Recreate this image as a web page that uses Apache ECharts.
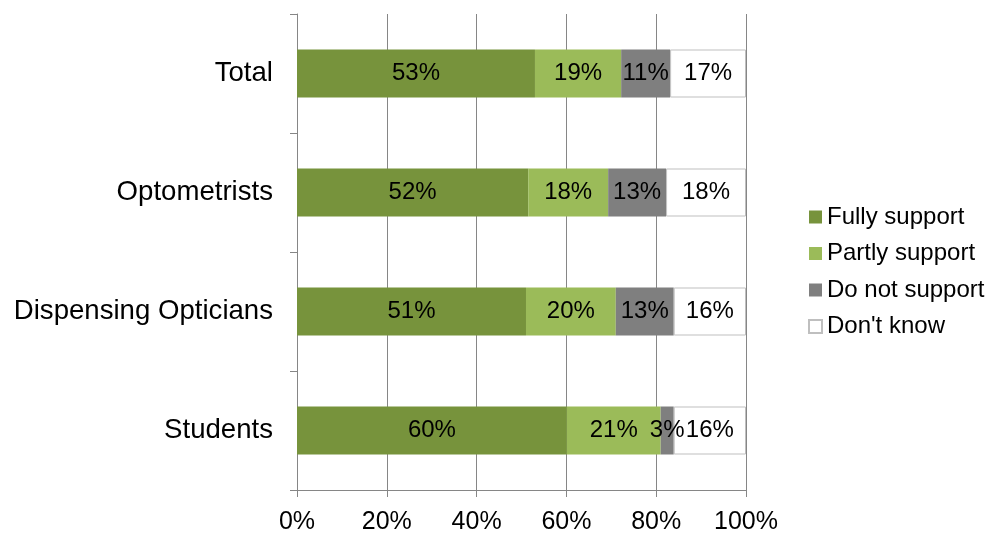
<!DOCTYPE html>
<html><head><meta charset="utf-8">
<script src="https://cdn.jsdelivr.net/npm/echarts@6/dist/echarts.min.js"></script>
<style>html,body{margin:0;padding:0;background:#fff}#c{width:993px;height:536px}</style>
</head><body><div id="c"></div>
<script>
const categories = ['Total', 'Optometrists', 'Dispensing Opticians', 'Students'];
const seriesNames = ['Fully support', 'Partly support', 'Do not support', "Don't know"];
const fully = [53, 51.5, 51, 60.1];
const partly = [19.2, 17.8, 20, 20.9];
const notSupport = [10.9, 12.9, 12.9, 2.9];
const dontKnow = [16.9, 17.8, 16.1, 16.1];
const xTicks = [0, 20, 40, 60, 80, 100];

const colors = ['#77933C', '#9BBB59', '#7F7F7F', '#FFFFFF'];
const font = 'Liberation Sans, Arial, sans-serif';
const chart = echarts.init(document.getElementById('c'), null, {renderer: 'canvas'});
const mk = (name, data, i) => ({
  name, type: 'bar', stack: 'a', data, barWidth: 48,
  itemStyle: {color: colors[i], borderColor: i === 3 ? '#BFBFBF' : colors[i], borderWidth: i === 3 ? 1 : 0},
  label: {show: true, position: 'inside', color: '#000', fontFamily: font, fontSize: 24,
    formatter: p => Math.round(p.value) + '%'}
});
chart.setOption({
  animation: false,
  grid: {left: 297, right: 247, top: 14, bottom: 46},
  legend: {
    orient: 'vertical', left: 803, top: 200, itemWidth: 13, itemHeight: 13, itemGap: 12.5,
    icon: 'rect', data: seriesNames,
    textStyle: {fontFamily: font, fontSize: 24, color: '#000'}
  },
  xAxis: {
    type: 'value', min: xTicks[0], max: xTicks[xTicks.length - 1], interval: 20,
    axisLine: {show: true, lineStyle: {color: '#868686'}},
    axisTick: {show: true, length: 7, lineStyle: {color: '#868686'}},
    splitLine: {show: true, lineStyle: {color: '#868686'}},
    axisLabel: {formatter: v => v + '%', fontFamily: font, fontSize: 25, color: '#000', margin: 20}
  },
  yAxis: {
    type: 'category', data: categories, inverse: true,
    axisLine: {show: true, lineStyle: {color: '#868686'}},
    axisTick: {show: true, length: 7, lineStyle: {color: '#868686'}},
    axisLabel: {fontFamily: font, fontSize: 27.6, color: '#000', margin: 24}
  },
  series: [mk(seriesNames[0], fully, 0), mk(seriesNames[1], partly, 1), mk(seriesNames[2], notSupport, 2), mk(seriesNames[3], dontKnow, 3)]
});
</script></body></html>
